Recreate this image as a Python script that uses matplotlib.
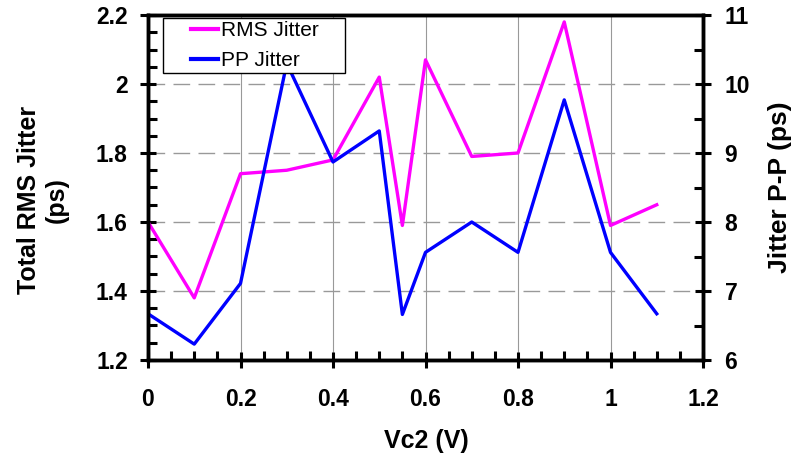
import matplotlib
matplotlib.use('Agg')
import numpy as np
import matplotlib.pyplot as plt
from matplotlib.lines import Line2D
from matplotlib.ticker import MultipleLocator, FuncFormatter
from matplotlib.legend_handler import HandlerLine2D

plt.rcParams['font.family'] = ['Liberation Sans', 'DejaVu Sans']

vc2 = [0, 0.1, 0.2, 0.3, 0.4, 0.5, 0.55, 0.6, 0.7, 0.8, 0.9, 1.0, 1.1]
rms_jitter = [1.60, 1.38, 1.74, 1.75, 1.78, 2.02, 1.59, 2.07, 1.79, 1.80, 2.18, 1.59, 1.65]
pp_jitter = [6.67, 6.23, 7.11, 10.3, 8.87, 9.32, 6.66, 7.56, 8.00, 7.56, 9.77, 7.56, 6.67]


class ShortLine(HandlerLine2D):
    # legend line drawn only on the right part of the handle box
    def create_artists(self, legend, orig_handle, xdescent, ydescent,
                       width, height, fontsize, trans):
        arts = super().create_artists(legend, orig_handle, xdescent, ydescent,
                                      width, height, fontsize, trans)
        for a in arts:
            x = np.asarray(a.get_xdata(), dtype=float)
            if len(x) >= 2:
                a.set_xdata(np.linspace(x[0] + 0.48 * (x[-1] - x[0]), x[-1], len(x)))
        return arts


fig = plt.figure(figsize=(7.97, 4.57), dpi=100)
ax = fig.add_axes([148 / 797, 1 - 360 / 457, (703 - 148) / 797, 345 / 457])
ax2 = ax.twinx()

l1, = ax.plot(vc2, rms_jitter, color='#ff00ff', lw=2.4, label='RMS Jitter')
l2, = ax2.plot(vc2, pp_jitter, color='#0000ff', lw=2.4, label='PP Jitter')

ax.set_xlim(0, 1.2)
ax.set_ylim(1.2, 2.2)
ax2.set_ylim(6, 11)

fmt = FuncFormatter(lambda v, p: '%g' % round(v, 2))
ax.xaxis.set_major_locator(MultipleLocator(0.2))
ax.xaxis.set_minor_locator(MultipleLocator(0.05))
ax.yaxis.set_major_locator(MultipleLocator(0.2))
ax.yaxis.set_minor_locator(MultipleLocator(0.05))
ax.xaxis.set_major_formatter(fmt)
ax.yaxis.set_major_formatter(fmt)
ax2.yaxis.set_major_locator(MultipleLocator(1))
ax2.yaxis.set_minor_locator(MultipleLocator(0.5))

# grid: dashed horizontal, thin solid vertical
ax.yaxis.grid(True, which='major', color='#999999', lw=1, ls=(0, (12, 6)))
ax.xaxis.grid(True, which='major', color='#999999', lw=0.8)
ax.set_axisbelow(True)

for a in (ax, ax2):
    for s in a.spines.values():
        s.set_linewidth(2.5)
    a.tick_params(which='major', direction='inout', length=12, width=2.2,
                  labelsize=16.5)
    a.tick_params(which='minor', direction='in', length=6.5, width=2.2)
ax.tick_params(top=False, which='both')
ax.tick_params(axis='x', pad=14)
ax.tick_params(axis='y', pad=8.5)
ax2.tick_params(axis='y', pad=9.5)

for lab in ax.get_xticklabels() + ax.get_yticklabels() + ax2.get_yticklabels():
    lab.set_fontweight('bold')

fig.text(426 / 797, 1 - 441 / 457, 'Vc2 (V)', fontsize=18, fontweight='bold',
         ha='center', va='center')
fig.text(43 / 797, 1 - 200 / 457, 'Total RMS Jitter\n(ps)', fontsize=18,
         fontweight='bold', rotation=90, ha='center', va='center',
         multialignment='center', linespacing=1.2)
fig.text(780 / 797, 1 - 187.5 / 457, 'Jitter P-P (ps)', fontsize=19,
         fontweight='bold', rotation=90, ha='center', va='center')

leg = ax2.legend([l1, l2], ['RMS Jitter    ', 'PP Jitter'], loc='upper left',
                 bbox_to_anchor=(15 / 555, 1 - 3 / 345), fontsize=15,
                 fancybox=False, framealpha=1, edgecolor='black',
                 borderpad=0.15, handlelength=2.5, handletextpad=0.15,
                 labelspacing=0.52, borderaxespad=0,
                 handler_map={Line2D: ShortLine()})
leg.get_frame().set_linewidth(1)
for h in leg.get_lines():
    h.set_linewidth(3)

fig.savefig('out.png', dpi=100)
